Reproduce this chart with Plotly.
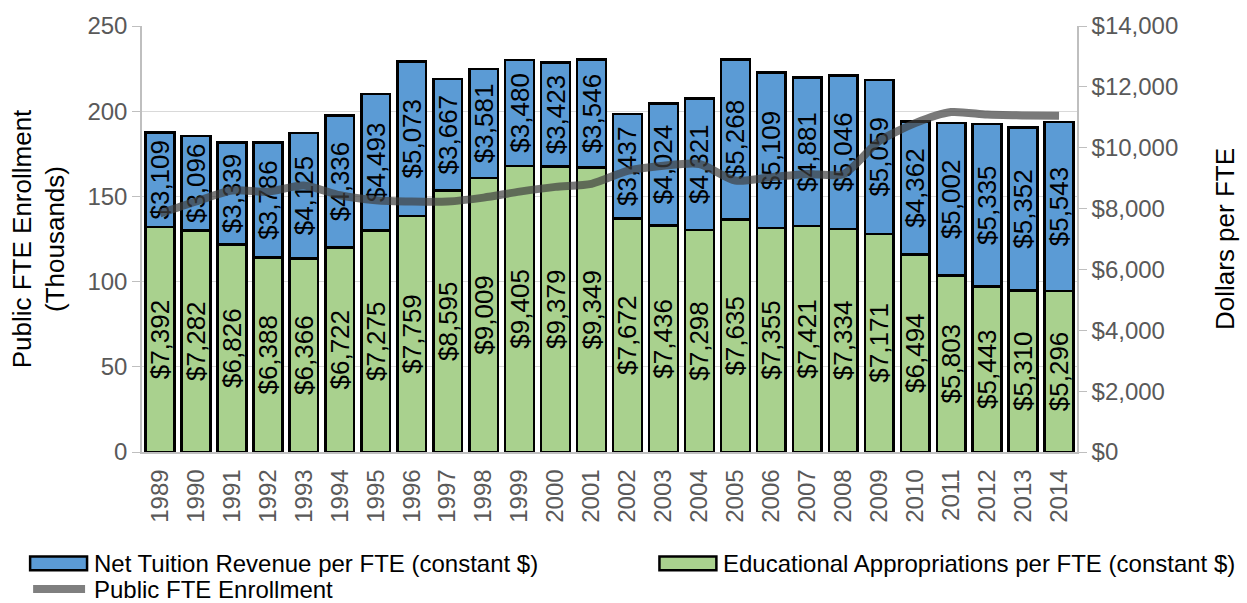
import plotly.graph_objects as go

years = [str(y) for y in range(1989, 2015)]
appropriations = [7392, 7282, 6826, 6388, 6366, 6722, 7275, 7759, 8595, 9009, 9405, 9379, 9349,
                  7672, 7436, 7298, 7635, 7355, 7421, 7334, 7171, 6494, 5803, 5443, 5310, 5296]
tuition = [3109, 3096, 3339, 3786, 4125, 4336, 4493, 5073, 3667, 3581, 3480, 3423, 3546,
           3437, 4024, 4321, 5268, 5109, 4881, 5046, 5059, 4362, 5002, 5335, 5352, 5543]
enrollment = [140, 147, 153.5, 152.8, 156.4, 150.7, 147.8, 147, 147, 149.3, 152.8, 155.6, 157.4,
              165, 168, 169, 159.3, 161.3, 163.2, 163, 182.5, 193, 199.5, 198, 197.5, 197.3]

left_ticks = [0, 50, 100, 150, 200, 250]
right_ticks = list(range(0, 14001, 2000))

name_tuition = "Net Tuition Revenue per FTE (constant $)"
name_approp = "Educational Appropriations per FTE (constant $)"
name_enroll = "Public FTE Enrollment"

BLUE = "#5b9bd5"
GREEN = "#a9d18e"
LINE = "rgba(64,64,64,0.7)"
FONT = "Liberation Sans, Arial, sans-serif"
GRAY = "#595959"

def money(v):
    return "${:,}".format(v)

fig = go.Figure()
fig.add_trace(go.Bar(
    x=years, y=appropriations, name=name_approp, yaxis="y",
    marker=dict(color=GREEN, line=dict(color="black", width=2.5)),
    text=[money(v) for v in appropriations], textposition="inside",
    insidetextanchor="middle", textangle=-90, constraintext="none",
    textfont=dict(family=FONT, size=26, color="black"), showlegend=False,
))
fig.add_trace(go.Bar(
    x=years, y=tuition, name=name_tuition, yaxis="y",
    marker=dict(color=BLUE, line=dict(color="black", width=2.5)),
    text=[money(v) for v in tuition], textposition="inside",
    insidetextanchor="middle", textangle=-90, constraintext="none",
    textfont=dict(family=FONT, size=26, color="black"), showlegend=False,
))
fig.add_trace(go.Scatter(
    x=years, y=enrollment, name=name_enroll, yaxis="y2", mode="lines",
    line=dict(color=LINE, width=8, shape="spline", smoothing=0.7), showlegend=False,
))

fig.update_layout(
    width=1247, height=603,
    margin=dict(l=142, r=169, t=20, b=151),
    barmode="stack", bargap=0.2,
    plot_bgcolor="white", paper_bgcolor="white",
    font=dict(family=FONT, size=24, color=GRAY),
    xaxis=dict(type="category", tickangle=-90, showline=True, linecolor="#bfbfbf", linewidth=1.5,
               ticks="", tickfont=dict(size=24, color=GRAY), showgrid=False,
               ticklabelstandoff=6),
    yaxis=dict(side="right", range=[0, 14000], tickvals=right_ticks,
               ticktext=["$" + "{:,}".format(v) for v in right_ticks],
               showline=True, linecolor="#bfbfbf", linewidth=1.5, ticks="outside",
               ticklen=8, tickcolor="#bfbfbf", showgrid=False, zeroline=False,
               tickfont=dict(size=24, color=GRAY),
               title=dict(text="Dollars per FTE", font=dict(size=26, color="black"), standoff=38)),
    yaxis2=dict(side="left", overlaying="y", range=[0, 250], tickvals=left_ticks,
                showline=True, linecolor="#bfbfbf", linewidth=1.5, ticks="outside",
                ticklen=8, tickcolor="#bfbfbf", showgrid=True, gridcolor="#d9d9d9",
                gridwidth=1, zeroline=False, tickfont=dict(size=24, color=GRAY),
                title=dict(text="Public FTE Enrollment<br>(Thousands)",
                           font=dict(size=26, color="black"), standoff=15)),
)

# manual legend
def px_x(px):
    return (px - 142) / 936.0

def px_y(py):
    return (452 - py) / 432.0

legend_items = [
    (30, 565, "rect", BLUE, name_tuition),
    (660, 565, "rect", GREEN, name_approp),
    (30, 591, "line", "#7f7f7f", name_enroll),
]
for x0, yc, kind, color, label in legend_items:
    if kind == "rect":
        fig.add_shape(type="rect", xref="paper", yref="paper",
                      x0=px_x(x0), x1=px_x(x0 + 57), y0=px_y(yc - 7), y1=px_y(yc + 7),
                      fillcolor=color, line=dict(color="black", width=2.5))
    else:
        fig.add_shape(type="line", xref="paper", yref="paper",
                      x0=px_x(x0 + 3), x1=px_x(x0 + 55), y0=px_y(yc), y1=px_y(yc),
                      line=dict(color=color, width=8))
    fig.add_annotation(xref="paper", yref="paper", x=px_x(x0 + 62), y=px_y(yc),
                       xanchor="left", yanchor="middle", showarrow=False, text=label,
                       font=dict(family=FONT, size=24, color="black"))

fig.write_html("out.html")
